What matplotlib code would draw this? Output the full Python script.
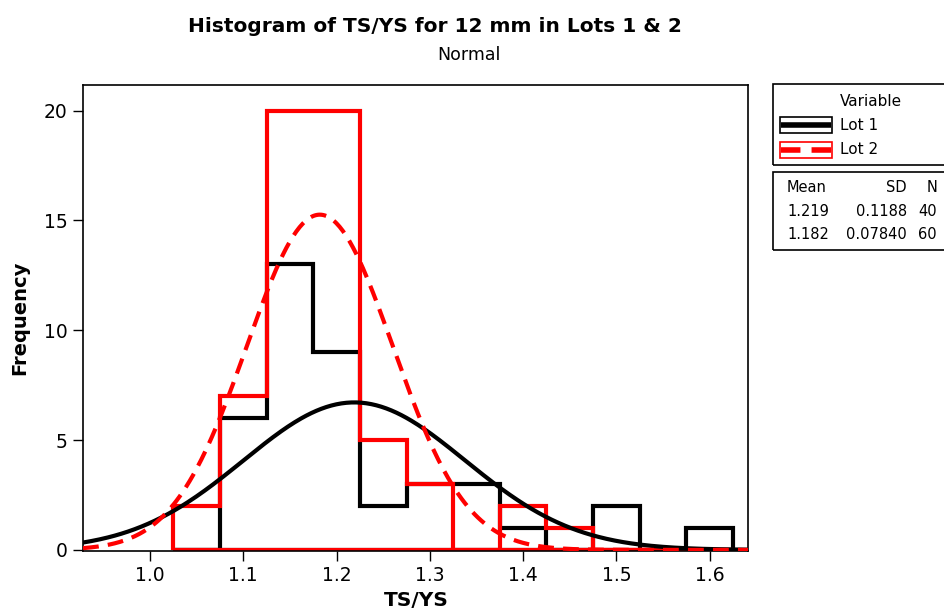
import numpy as np
import matplotlib
matplotlib.use("Agg")
import matplotlib.pyplot as plt
from matplotlib.patches import Rectangle
from matplotlib.lines import Line2D

# ---- data ----
bin_edges = [1.025, 1.075, 1.125, 1.175, 1.225, 1.275, 1.325, 1.375, 1.425, 1.475, 1.525, 1.575, 1.625]
lot1_counts = [0, 6, 13, 9, 2, 3, 3, 1, 0, 2, 0, 1]
lot2_counts = [2, 7, 20, 20, 5, 3, 0, 2, 1, 0, 0, 0]
series_names = ["Lot 1", "Lot 2"]
means = [1.219, 1.182]
sds = [0.1188, 0.07840]
ns = [40, 60]
mean_labels = ["1.219", "1.182"]
sd_labels = ["0.1188", "0.07840"]
n_labels = ["40", "60"]
x_ticks = [1.0, 1.1, 1.2, 1.3, 1.4, 1.5, 1.6]
y_ticks = [0, 5, 10, 15, 20]

plt.rcParams['font.family'] = ['DejaVu Sans']

W, H = 944, 613
fig = plt.figure(figsize=(W / 100, H / 100), dpi=100)

def fx(px):
    return px / W

def fy(py):
    return 1 - py / H

ax = fig.add_axes([fx(83), fy(551), fx(748) - fx(83), fy(85) - fy(551)])
ax.set_xlim(0.9282, 1.641)
ax.set_ylim(-0.05, 21.17)

lw = 3.0
colors = ["black", "#ff0000"]
for counts, c in zip([lot1_counts, lot2_counts], colors):
    ax.stairs(counts, bin_edges, baseline=0, fill=False, color=c, lw=lw,
              joinstyle='miter', zorder=2)
    ax.plot([bin_edges[0], bin_edges[-1]], [0, 0], color=c, lw=lw,
            solid_capstyle='butt', zorder=2)

bw = bin_edges[1] - bin_edges[0]
xs = np.linspace(0.9282, 1.641, 400)
styles = ['-', (0, (3.8, 2.2))]
for m, s, n, c, ls in zip(means, sds, ns, colors, styles):
    ys = n * bw / (s * np.sqrt(2 * np.pi)) * np.exp(-0.5 * ((xs - m) / s) ** 2)
    ax.plot(xs, ys, color=c, lw=lw, ls=ls, zorder=3)

ax.set_xticks(x_ticks)
ax.set_xticklabels([f"{t:.1f}" for t in x_ticks])
ax.set_yticks(y_ticks)
ax.tick_params(direction='out', length=7, width=1, labelsize=13.5, pad=4)
for sp in ax.spines.values():
    sp.set_linewidth(1.2)

fig.text(fx(416), fy(601), "TS/YS", ha='center', va='center', fontsize=14.5, fontweight='bold')
fig.text(fx(20), fy(318), "Frequency", ha='center', va='center', fontsize=14,
         fontweight='bold', rotation=90)

fig.text(fx(435), fy(27), "Histogram of TS/YS for 12 mm in Lots 1 & 2", ha='center',
         va='center', fontsize=14.5, fontweight='bold')
fig.text(fx(469), fy(55), "Normal", ha='center', va='center', fontsize=12.5)

# legend box 1
fig.patches.append(Rectangle((fx(773), fy(165)), fx(990) - fx(773), fy(84) - fy(165),
                             transform=fig.transFigure, fill=False, ec='black', lw=1.2))
fig.text(fx(871), fy(101), "Variable", ha='center', va='center', fontsize=11)
for i, (name, c, ls) in enumerate(zip(series_names, colors, styles)):
    yc = 125 + 25 * i
    fig.patches.append(Rectangle((fx(780), fy(yc + 8)), fx(832) - fx(780), fy(yc - 8) - fy(yc + 8),
                                 transform=fig.transFigure, fill=False, ec=c, lw=1.2))
    fig.lines.append(Line2D([fx(781), fx(831)], [fy(yc), fy(yc)], transform=fig.transFigure,
                            color=c, lw=4, ls=(0, (3.5, 2.0)) if i == 1 else '-',
                            solid_capstyle='butt', dash_capstyle='butt'))
    fig.text(fx(840), fy(yc), name, ha='left', va='center', fontsize=11)

# legend box 2
fig.patches.append(Rectangle((fx(773), fy(250)), fx(990) - fx(773), fy(172) - fy(250),
                             transform=fig.transFigure, fill=False, ec='black', lw=1.2))
fig.text(fx(787), fy(187), "Mean", ha='left', va='center', fontsize=10.5)
fig.text(fx(907), fy(187), "SD", ha='right', va='center', fontsize=10.5)
fig.text(fx(937), fy(187), "N", ha='right', va='center', fontsize=10.5)
for i in range(2):
    yc = 211 + 24 * i
    fig.text(fx(787), fy(yc), mean_labels[i], ha='left', va='center', fontsize=10.5)
    fig.text(fx(907), fy(yc), sd_labels[i], ha='right', va='center', fontsize=10.5)
    fig.text(fx(937), fy(yc), n_labels[i], ha='right', va='center', fontsize=10.5)

fig.savefig("out.png", dpi=100)
